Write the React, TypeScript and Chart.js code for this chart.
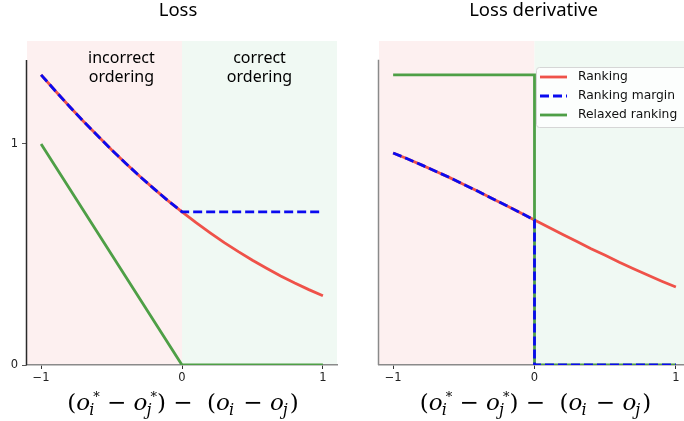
import React, { useEffect, useRef } from 'react';
import { Chart, registerables } from 'chart.js';

Chart.register(...registerables);

// ---------- data ----------
const xGrid = [-1, -0.9, -0.8, -0.7, -0.6, -0.5, -0.4, -0.3, -0.2, -0.1, 0, 0.1, 0.2, 0.3, 0.4, 0.5, 0.6, 0.7, 0.8, 0.9, 1];
const rankingLoss = [1.313, 1.241, 1.171, 1.103, 1.038, 0.974, 0.913, 0.854, 0.798, 0.744, 0.693, 0.644, 0.598, 0.554, 0.513, 0.474, 0.438, 0.403, 0.371, 0.341, 0.313];
const marginLossX = [-1, -0.9, -0.8, -0.7, -0.6, -0.5, -0.4, -0.3, -0.2, -0.1, 0, 1];
const marginLoss = [1.313, 1.241, 1.171, 1.103, 1.038, 0.974, 0.913, 0.854, 0.798, 0.744, 0.693, 0.693];
const relaxedLossX = [-1, 0, 1];
const relaxedLoss = [1, 0, 0];

const rankingDeriv = [0.731, 0.711, 0.69, 0.668, 0.646, 0.622, 0.599, 0.574, 0.55, 0.525, 0.5, 0.475, 0.45, 0.426, 0.401, 0.378, 0.354, 0.332, 0.31, 0.289, 0.269];
const marginDerivX = [-1, -0.9, -0.8, -0.7, -0.6, -0.5, -0.4, -0.3, -0.2, -0.1, 0, 0, 1];
const marginDeriv = [0.731, 0.711, 0.69, 0.668, 0.646, 0.622, 0.599, 0.574, 0.55, 0.525, 0.5, 0, 0];
const relaxedDerivX = [-1, 0, 0, 1];
const relaxedDeriv = [1, 1, 0, 0];

const xTicks = [-1, 0, 1];
const lossYTicks = [0, 1];
const seriesNames = ['Ranking', 'Ranking margin', 'Relaxed ranking'];
const titles = ['Loss', 'Loss derivative'];
const regionLabels = [['incorrect', 'ordering'], ['correct', 'ordering']];

// ---------- styles ----------
const RED = '#ef5249';
const BLUE = '#0a0af0';
const GREEN = '#4e9f46';
const PINK = '#fdf0f0';
const MINT = '#f0f9f3';
const TEXT_FONT = '"Noto Sans", "Open Sans", sans-serif';
const TICK_FONT = '"DejaVu Sans", sans-serif';
const MATH_FONT = '"DejaVu Serif", serif';
const LW = 2.8;

function pts(xs: number[], ys: number[]) {
  return xs.map((x, i) => ({ x, y: ys[i] }));
}

function fmt(v: number) {
  return v < 0 ? '\u2212' + Math.abs(v) : String(v);
}

function makeDatasets(r: any[], m: any[], rl: any[]) {
  const common = { pointRadius: 0, tension: 0, fill: false, borderWidth: LW, borderCapStyle: 'butt', borderJoinStyle: 'miter' };
  return [
    { ...common, label: seriesNames[0], data: r, borderColor: RED, order: 3 },
    { ...common, label: seriesNames[1], data: m, borderColor: BLUE, borderDash: [9, 4], order: 1 },
    { ...common, label: seriesNames[2], data: rl, borderColor: GREEN, order: 2 },
  ];
}

function drawMath(ctx: CanvasRenderingContext2D, cx: number, base: number, fs: number) {
  const fR = `${fs}px ${MATH_FONT}`;
  const fI = `italic ${fs}px ${MATH_FONT}`;
  const fSub = `italic ${Math.round(fs * 0.68)}px ${MATH_FONT}`;
  const fSup = `${Math.round(fs * 0.55)}px ${MATH_FONT}`;
  type G = { t: string; f: string; sub?: string; sup?: string };
  const groups: G[] = [
    { t: '(', f: fR },
    { t: 'o', f: fI, sub: 'i', sup: '*' },
    { t: ' \u2212 ', f: fR },
    { t: 'o', f: fI, sub: 'j', sup: '*' },
    { t: ')', f: fR },
    { t: ' \u2212  ', f: fR },
    { t: '(', f: fR },
    { t: 'o', f: fI, sub: 'i' },
    { t: ' \u2212 ', f: fR },
    { t: 'o', f: fI, sub: 'j' },
    { t: ')', f: fR },
  ];
  const widths = groups.map((g) => {
    ctx.font = g.f;
    const w = ctx.measureText(g.t).width;
    let extra = 0;
    if (g.sub) {
      ctx.font = fSub;
      extra = Math.max(extra, ctx.measureText(g.sub).width + 1);
    }
    if (g.sup) {
      ctx.font = fSup;
      extra = Math.max(extra, ctx.measureText(g.sup).width + 3);
    }
    return w + extra;
  });
  const total = widths.reduce((a, b) => a + b, 0);
  let x = cx - total / 2;
  ctx.fillStyle = '#000';
  ctx.textBaseline = 'alphabetic';
  ctx.textAlign = 'left';
  groups.forEach((g, i) => {
    ctx.font = g.f;
    ctx.fillText(g.t, x, base);
    const w = ctx.measureText(g.t).width;
    if (g.sub) {
      ctx.font = fSub;
      ctx.fillText(g.sub, x + w - 1, base + fs * 0.22);
    }
    if (g.sup) {
      ctx.font = fSup;
      ctx.fillText(g.sup, x + w + 3, base - fs * 0.4);
    }
    x += widths[i];
  });
}

type PanelOpts = {
  title: string;
  titleDx: number;
  spineTop: number;
  spineColor: string;
  labels?: string[][];
  legend?: boolean;
};

function decorPlugin(o: PanelOpts) {
  return {
    id: 'decor',
    beforeDraw(chart: any) {
      const { ctx, chartArea: a, scales } = chart;
      const x0 = scales.x.getPixelForValue(0);
      ctx.save();
      ctx.fillStyle = '#fff';
      ctx.fillRect(0, 0, chart.width, chart.height);
      ctx.fillStyle = PINK;
      ctx.fillRect(a.left, a.top, x0 - a.left, a.bottom - a.top);
      ctx.fillStyle = MINT;
      ctx.fillRect(x0, a.top, a.right - x0, a.bottom - a.top);
      ctx.restore();
    },
    afterDraw(chart: any) {
      const { ctx, chartArea: a, scales } = chart;
      ctx.save();
      // left spine
      const yTop = scales.y.getPixelForValue(o.spineTop);
      ctx.strokeStyle = o.spineColor;
      ctx.lineWidth = 1.5;
      ctx.beginPath();
      ctx.moveTo(a.left - 0.5, yTop);
      ctx.lineTo(a.left - 0.5, a.bottom);
      ctx.stroke();
      // title
      const cx = (a.left + a.right) / 2;
      ctx.fillStyle = '#000';
      ctx.font = `18.5px ${TEXT_FONT}`;
      ctx.textAlign = 'center';
      ctx.textBaseline = 'alphabetic';
      ctx.fillText(o.title, cx + o.titleDx, 16);
      // region labels
      if (o.labels) {
        ctx.font = `16px ${TEXT_FONT}`;
        const xs = [scales.x.getPixelForValue(-0.43), scales.x.getPixelForValue(0.55)];
        o.labels.forEach((lines, i) => {
          lines.forEach((t, j) => {
            ctx.fillText(t, xs[i], a.top + 22 + j * 19);
          });
        });
      }
      // x label
      drawMath(ctx, cx + 1, 410, 23);
      // legend
      if (o.legend) {
        const ds = chart.data.datasets;
        const bw = 151;
        const bx = a.right - 3 - bw;
        const by = a.top + 26;
        const bh = 60;
        ctx.fillStyle = 'rgba(255,255,255,0.8)';
        ctx.strokeStyle = '#d6d6d6';
        ctx.lineWidth = 1;
        ctx.beginPath();
        if ((ctx as any).roundRect) (ctx as any).roundRect(bx + 0.5, by + 0.5, bw, bh, 3);
        else ctx.rect(bx + 0.5, by + 0.5, bw, bh);
        ctx.fill();
        ctx.stroke();
        ctx.font = `12.3px ${TICK_FONT}`;
        ctx.textAlign = 'left';
        ctx.textBaseline = 'middle';
        ds.forEach((d: any, i: number) => {
          const yy = by + 10 + i * 19;
          ctx.strokeStyle = d.borderColor;
          ctx.lineWidth = LW;
          ctx.setLineDash(d.borderDash || []);
          ctx.beginPath();
          ctx.moveTo(bx + 4, yy);
          ctx.lineTo(bx + 31, yy);
          ctx.stroke();
          ctx.setLineDash([]);
          ctx.fillStyle = '#111';
          ctx.fillText(d.label, bx + 42, yy);
        });
      }
      ctx.restore();
    },
  };
}

function makeConfig(datasets: any[], yMax: number, leftW: number, padR: number, showY: boolean, deco: PanelOpts) {
  return {
    type: 'line',
    data: { datasets },
    options: {
      animation: false,
      responsive: false,
      devicePixelRatio: 1,
      layout: { padding: { top: 41, right: padR, left: 0, bottom: 0 } },
      plugins: { legend: { display: false }, tooltip: { enabled: false }, title: { display: false } },
      scales: {
        x: {
          type: 'linear',
          min: -1.1,
          max: 1.1,
          afterBuildTicks: (s: any) => {
            s.ticks = xTicks.map((v) => ({ value: v }));
          },
          afterFit: (s: any) => {
            s.height = 56;
          },
          grid: { display: true, drawOnChartArea: false, drawTicks: true, tickLength: 4, color: '#333', lineWidth: 1 },
          border: { display: true, color: '#8a8a8a', width: 1.5 },
          ticks: {
            font: { family: TICK_FONT, size: 11.5 },
            color: '#222',
            padding: 2,
            maxRotation: 0,
            callback: (v: any) => fmt(Number(v)),
          },
        },
        y: {
          type: 'linear',
          min: 0,
          max: yMax,
          afterBuildTicks: (s: any) => {
            s.ticks = showY ? lossYTicks.map((v) => ({ value: v })) : [];
          },
          afterFit: (s: any) => {
            s.width = leftW;
          },
          grid: { display: showY, drawOnChartArea: false, drawTicks: true, tickLength: 5, color: '#555', lineWidth: 1 },
          border: { display: false },
          ticks: {
            display: showY,
            font: { family: TICK_FONT, size: 11.5 },
            color: '#222',
            padding: 4,
            callback: (v: any) => fmt(Number(v)),
          },
        },
      },
    },
    plugins: [decorPlugin(deco)],
  };
}

export default function App() {
  const leftRef = useRef<HTMLCanvasElement>(null);
  const rightRef = useRef<HTMLCanvasElement>(null);

  useEffect(() => {
    document.body.style.margin = '0';
    const c1 = new Chart(
      leftRef.current as HTMLCanvasElement,
      makeConfig(
        makeDatasets(pts(xGrid, rankingLoss), pts(marginLossX, marginLoss), pts(relaxedLossX, relaxedLoss)),
        1.466,
        27,
        5,
        true,
        { title: titles[0], titleDx: -4, spineTop: 1.38, spineColor: '#2a2a2a', labels: regionLabels }
      ) as any
    );
    const c2 = new Chart(
      rightRef.current as HTMLCanvasElement,
      makeConfig(
        makeDatasets(pts(xGrid, rankingDeriv), pts(marginDerivX, marginDeriv), pts(relaxedDerivX, relaxedDeriv)),
        1.117,
        37,
        12,
        false,
        { title: titles[1], titleDx: -1, spineTop: 1.052, spineColor: '#8a8a8a', legend: true }
      ) as any
    );
    return () => {
      c1.destroy();
      c2.destroy();
    };
  }, []);

  return (
    <div style={{ position: 'absolute', left: 0, top: 0, width: 684, height: 421, overflow: 'hidden', background: '#fff' }}>
      <canvas ref={leftRef} width={342} height={421} style={{ position: 'absolute', left: 0, top: 0 }} />
      <canvas ref={rightRef} width={360} height={421} style={{ position: 'absolute', left: 342, top: 0 }} />
    </div>
  );
}
